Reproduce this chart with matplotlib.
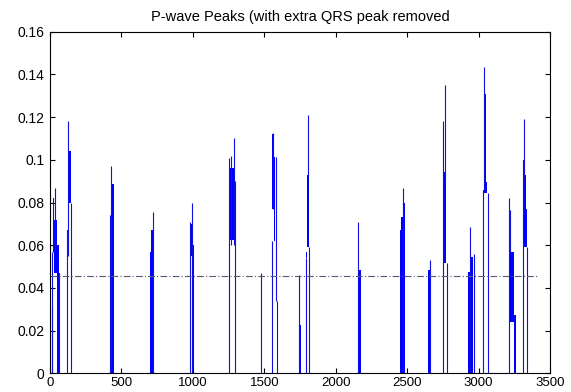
import matplotlib.pyplot as plt

plt.rcParams["font.family"] = ["Liberation Sans", "DejaVu Sans"]

# isolated peak lines: position, base level, peak level
spike_x = [12, 17, 21, 35, 66, 119, 128, 150, 420, 427, 719, 980, 992,
           1256, 1270, 1288, 1293, 1477, 1554, 1562, 1582, 1587, 1745,
           1790, 1806, 1815, 2158, 2471, 2660, 2748, 2768, 2778, 2940,
           2966, 3029, 3036, 3064, 3216, 3222, 3309, 3318, 3341]
spike_lo = [0, 0, 0.057, 0.057, 0, 0, 0.055, 0, 0, 0, 0, 0, 0,
            0, 0.06, 0.06, 0, 0, 0, 0.077, 0.034, 0, 0,
            0, 0.093, 0, 0, 0, 0, 0, 0.09, 0, 0,
            0, 0, 0.086, 0, 0, 0.057, 0, 0.09, 0]
spike_hi = [0.031, 0.057, 0.082, 0.087, 0.047, 0.067, 0.118, 0.080, 0.074,
            0.097, 0.0755, 0.071, 0.080, 0.101, 0.102, 0.110, 0.090, 0.0468,
            0.062, 0.1127, 0.1015, 0.034, 0.046, 0.054, 0.121, 0.059, 0.071,
            0.087, 0.053, 0.118, 0.135, 0.0515, 0.0684, 0.056, 0.086, 0.1436,
            0.0844, 0.082, 0.0765, 0.100, 0.119, 0.059]

# dense peak clusters: start, end, lower and upper level
band_start = [19, 30, 47, 58, 119, 128, 133, 427, 434, 700, 707, 984, 998,
              1262, 1556, 1566, 1748, 1792, 1797, 2158, 2450, 2458, 2476,
              2644, 2748, 2755, 2928, 2940, 3029, 3036, 3044, 3052, 3216,
              3246, 3309, 3318, 3330]
band_end = [30, 47, 65, 70, 128, 133, 149, 434, 448, 707, 728, 998, 1008,
            1288, 1566, 1577, 1757, 1797, 1812, 2175, 2458, 2476, 2482,
            2658, 2755, 2772, 2940, 2958, 3036, 3044, 3052, 3062, 3246,
            3260, 3318, 3330, 3340]
band_lo = [0.057, 0.047, 0, 0, 0.055, 0.080, 0.080, 0, 0, 0, 0, 0.055, 0,
           0.0625, 0.077, 0.062, 0, 0.054, 0.059, 0, 0, 0, 0,
           0, 0.064, 0.0515, 0, 0, 0.078, 0.0844, 0.0844, 0.0844, 0.024,
           0, 0.0844, 0.059, 0.059]
band_hi = [0.082, 0.072, 0.060, 0.047, 0.067, 0.100, 0.104, 0.090, 0.0885,
           0.057, 0.067, 0.070, 0.060, 0.096, 0.112, 0.1015, 0.0226, 0.057,
           0.093, 0.0485, 0.067, 0.073, 0.080, 0.0484, 0.073, 0.0944, 0.0476,
           0.0546, 0.086, 0.1358, 0.131, 0.0897, 0.057, 0.0273, 0.100, 0.093,
           0.077]

threshold = 0.0456
threshold_end = 3418

fig = plt.figure(figsize=(5.71, 3.92), dpi=100)
ax = fig.add_axes([0.0876, 0.0477, 0.8757, 0.8714])

widths = [e - s for s, e in zip(band_start, band_end)]
heights = [h - l for l, h in zip(band_lo, band_hi)]
ax.bar(band_start, heights, width=widths, bottom=band_lo, align="edge",
       color="#0000ff", linewidth=0)
ax.vlines(spike_x, spike_lo, spike_hi, color="#1010e0", linewidth=0.8)

ax.plot([0, threshold_end], [threshold, threshold], color="#5a5a70",
        linewidth=0.8, dashes=[6, 2, 1, 2])

ax.set_xlim(0, 3500)
ax.set_ylim(0, 0.16)
ax.set_xticks(range(0, 3501, 500))
ax.set_yticks([0, 0.02, 0.04, 0.06, 0.08, 0.1, 0.12, 0.14, 0.16])
ax.set_yticklabels(["0", "0.02", "0.04", "0.06", "0.08", "0.1", "0.12",
                    "0.14", "0.16"])
ax.tick_params(direction="in", top=True, right=True, length=3.6, width=0.8,
               labelsize=10)
ax.tick_params(axis="x", pad=3, labelsize=9.5)
ax.tick_params(axis="y", pad=4)
for s in ax.spines.values():
    s.set_linewidth(0.8)

ax.set_title("P-wave Peaks (with extra QRS peak removed", fontsize=10.5, pad=8)

fig.savefig("out.png", dpi=100)
